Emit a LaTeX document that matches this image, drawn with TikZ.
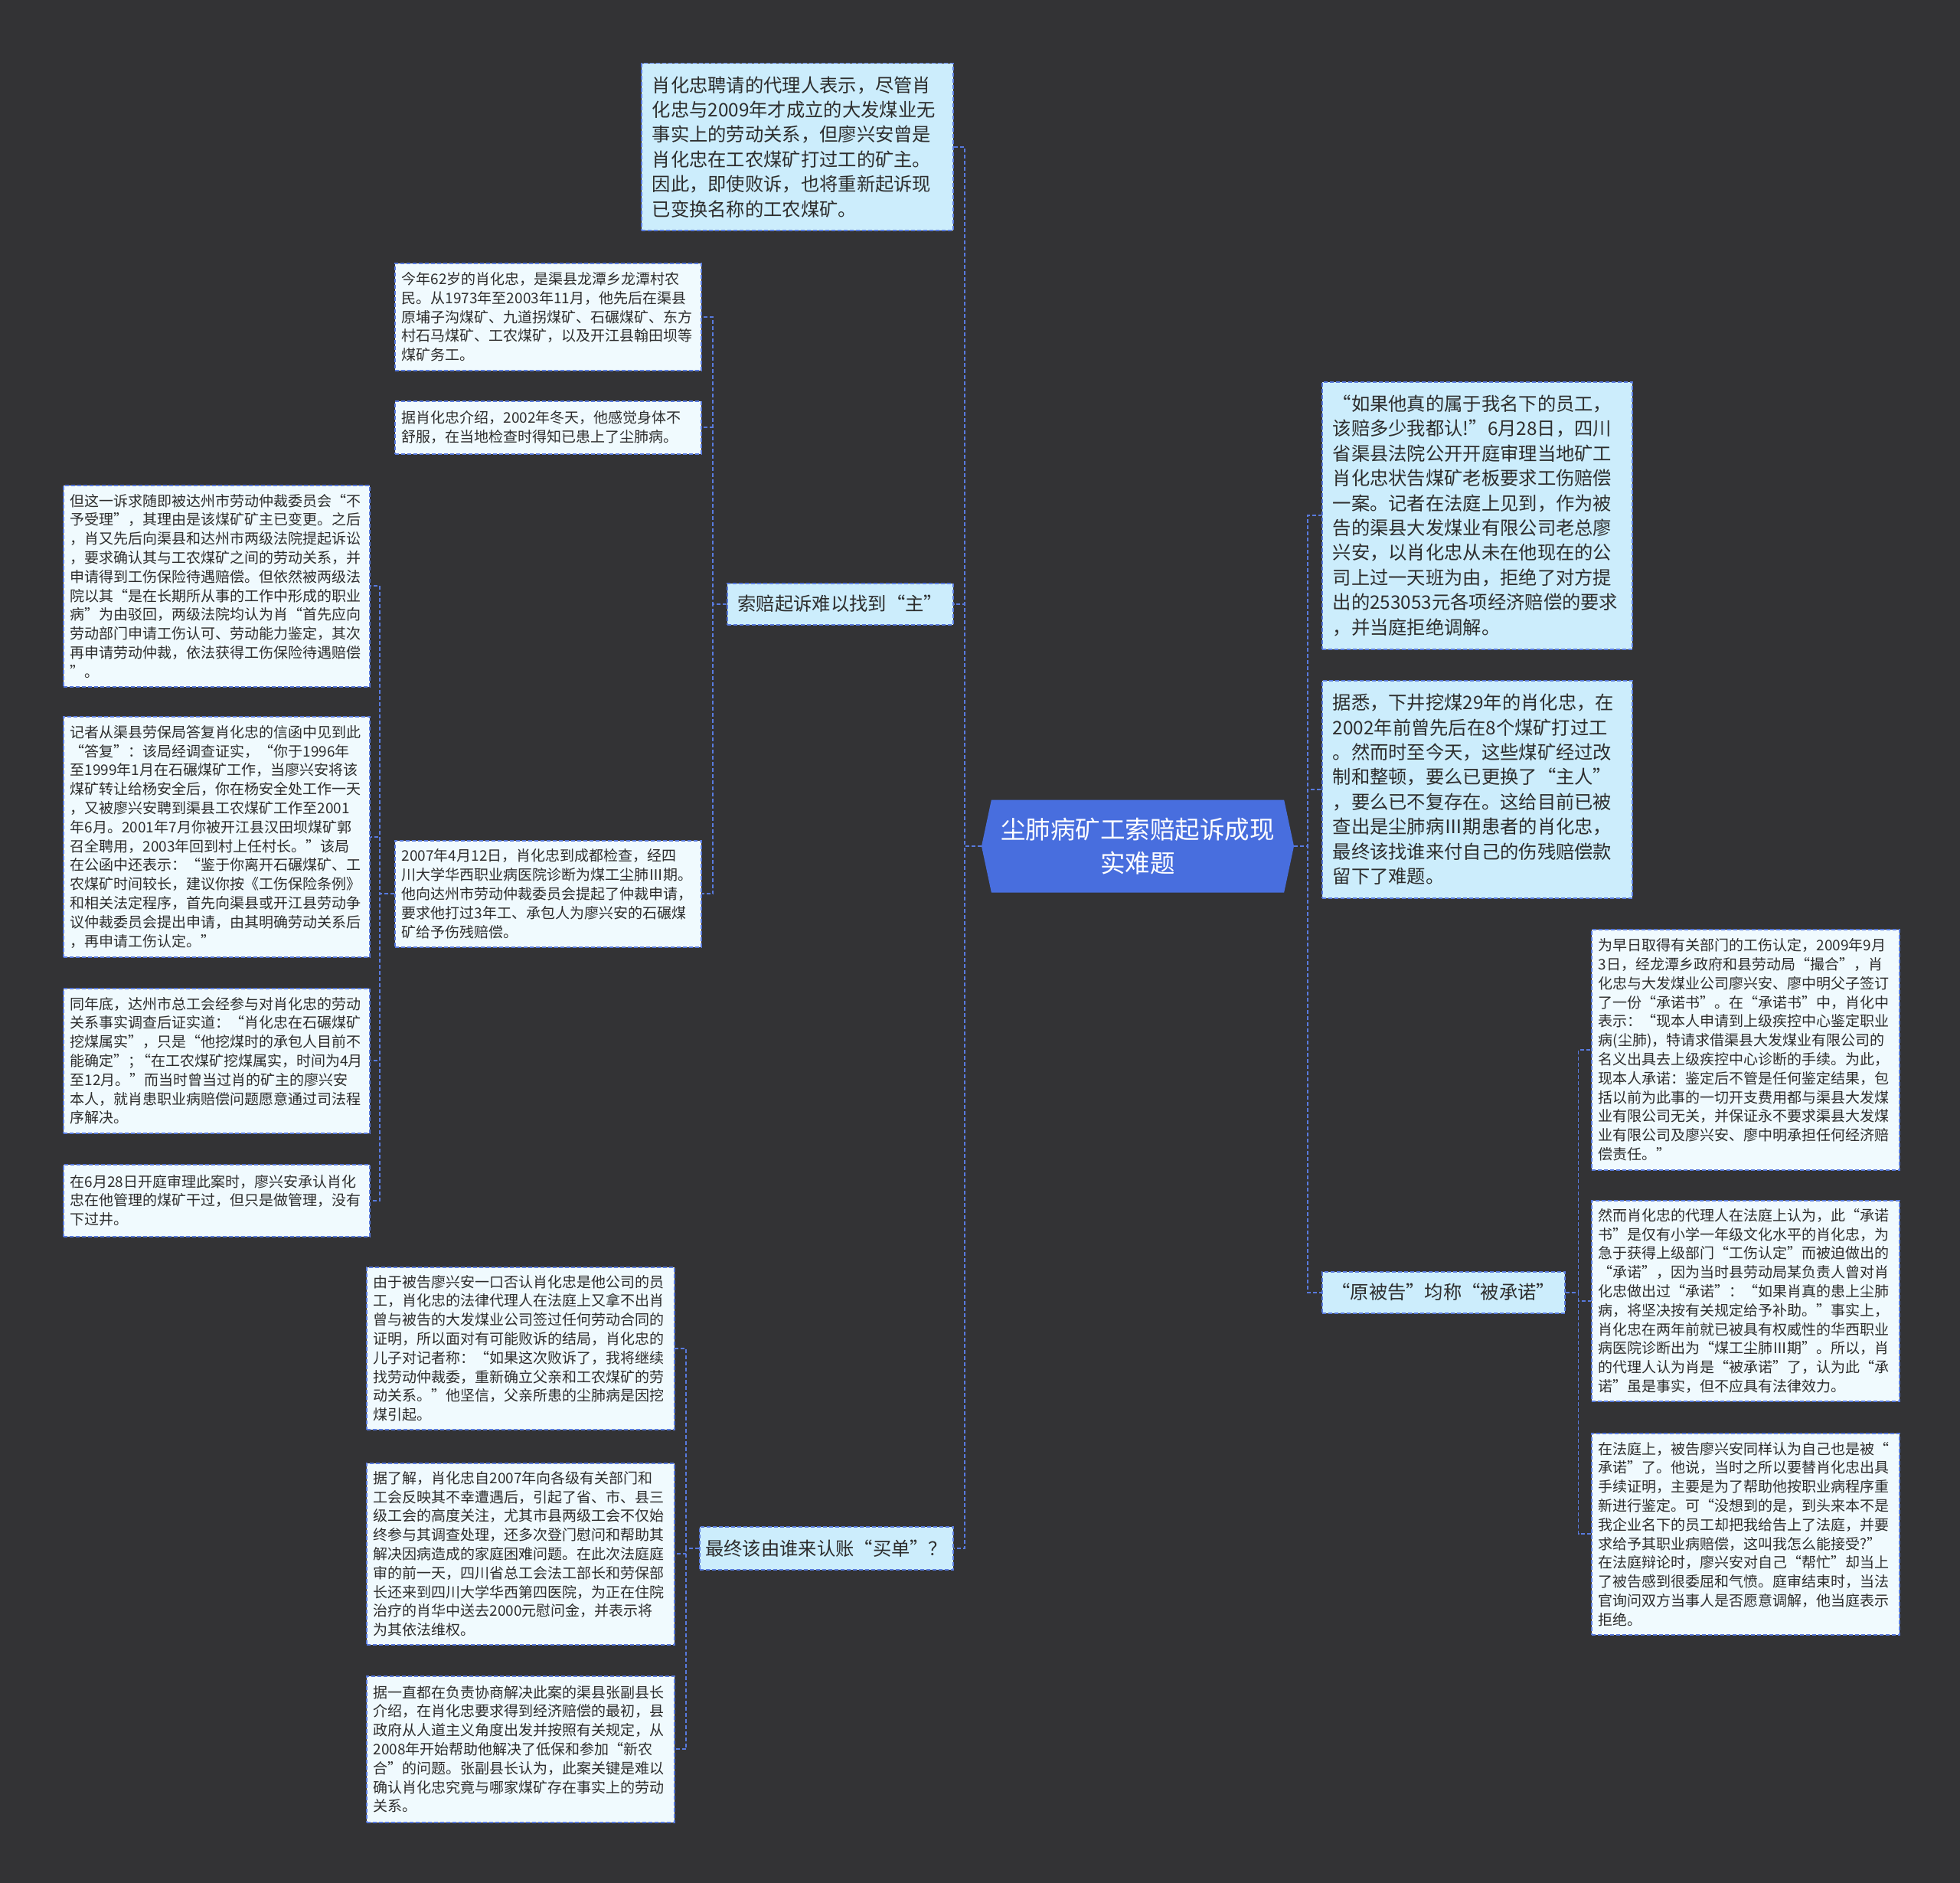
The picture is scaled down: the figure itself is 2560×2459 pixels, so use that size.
\documentclass[tikz,border=0pt]{standalone}
\usepackage{fontspec}
\setmainfont{Noto Sans CJK SC}
\usetikzlibrary{shapes.symbols}
\definecolor{bgc}{RGB}{51,51,53}
\definecolor{lone}{RGB}{204,237,252}
\definecolor{ltwo}{RGB}{240,250,254}
\definecolor{edgec}{RGB}{88,122,222}
\definecolor{cblue}{RGB}{72,110,222}
\definecolor{txt}{RGB}{45,45,45}
\tikzset{
  boxbase/.style={draw=edgec, dash pattern=on 5pt off 3pt, line width=1.5pt, anchor=north west, inner ysep=0pt, text=txt},
  lonebox/.style={boxbase, fill=lone, inner xsep=14pt, align=left, font=\fontsize{24.3}{32.4}\selectfont},
  lonesmall/.style={boxbase, fill=lone, inner xsep=6pt, align=center, font=\fontsize{24.3}{32.4}\selectfont},
  ltwobox/.style={boxbase, fill=ltwo, inner xsep=9pt, align=left, font=\fontsize{19}{24.8}\selectfont},
  link/.style={draw=edgec, line width=1.6pt, dash pattern=on 5pt off 3pt},
}
\begin{document}
\begin{tikzpicture}[x=1pt,y=-1pt]
\fill[bgc] (0,0) rectangle (2560,2459);
\useasboundingbox (0,0) rectangle (2560,2459);

% center
\node[signal, signal to=west and east, signal pointer angle=156, fill=cblue, text=white,
      minimum width=408pt, minimum height=121pt, inner sep=0pt, align=center,
      font=\fontsize{32.5}{44}\selectfont] (c) at (1486,1105) {尘肺病矿工索赔起诉成现\\实难题};

% level one, left
\node[lonebox, text width=379pt, minimum height=218pt] (t1) at (837,82) {肖化忠聘请的代理人表示，尽管肖\\化忠与2009年才成立的大发煤业无\\事实上的劳动关系，但廖兴安曾是\\肖化忠在工农煤矿打过工的矿主。\\因此，即使败诉，也将重新起诉现\\已变换名称的工农煤矿。};
\node[lonesmall, minimum width=295pt, minimum height=54pt] (s) at (949,761) {索赔起诉难以找到“主”};
\node[lonesmall, minimum width=331pt, minimum height=56pt] (z) at (913,1993) {最终该由谁来认账“买单”？};

% level one, right
\node[lonebox, text width=377pt, minimum height=349pt] (r1) at (1726,498) {“如果他真的属于我名下的员工，\\该赔多少我都认!”6月28日，四川\\省渠县法院公开开庭审理当地矿工\\肖化忠状告煤矿老板要求工伤赔偿\\一案。记者在法庭上见到，作为被\\告的渠县大发煤业有限公司老总廖\\兴安，以肖化忠从未在他现在的公\\司上过一天班为由，拒绝了对方提\\出的253053元各项经济赔偿的要求\\，并当庭拒绝调解。};
\node[lonebox, text width=377pt, minimum height=284pt] (r2) at (1726,888) {据悉，下井挖煤29年的肖化忠，在\\2002年前曾先后在8个煤矿打过工\\。然而时至今天，这些煤矿经过改\\制和整顿，要么已更换了“主人”\\，要么已不复存在。这给目前已被\\查出是尘肺病Ⅲ期患者的肖化忠，\\最终该找谁来付自己的伤残赔偿款\\留下了难题。};
\node[lonesmall, minimum width=317pt, minimum height=54pt] (r3) at (1726,1660) {“原被告”均称“被承诺”};

% level two under s
\node[ltwobox, text width=382pt, minimum height=140pt] (a1) at (515,343) {今年62岁的肖化忠，是渠县龙潭乡龙潭村农\\民。从1973年至2003年11月，他先后在渠县\\原埔子沟煤矿、九道拐煤矿、石碾煤矿、东方\\村石马煤矿、工农煤矿，以及开江县翰田坝等\\煤矿务工。};
\node[ltwobox, text width=382pt, minimum height=69pt] (a2) at (515,523) {据肖化忠介绍，2002年冬天，他感觉身体不\\舒服，在当地检查时得知已患上了尘肺病。};
\node[ltwobox, text width=382pt, minimum height=139pt] (a3) at (515,1097) {2007年4月12日，肖化忠到成都检查，经四\\川大学华西职业病医院诊断为煤工尘肺Ⅲ期。\\他向达州市劳动仲裁委员会提起了仲裁申请，\\要求他打过3年工、承包人为廖兴安的石碾煤\\矿给予伤残赔偿。};

% level three under a3
\node[ltwobox, text width=382pt, minimum height=263pt] (b1) at (82,633) {但这一诉求随即被达州市劳动仲裁委员会“不\\予受理”，其理由是该煤矿矿主已变更。之后\\，肖又先后向渠县和达州市两级法院提起诉讼\\，要求确认其与工农煤矿之间的劳动关系，并\\申请得到工伤保险待遇赔偿。但依然被两级法\\院以其“是在长期所从事的工作中形成的职业\\病”为由驳回，两级法院均认为肖“首先应向\\劳动部门申请工伤认可、劳动能力鉴定，其次\\再申请劳动仲裁，依法获得工伤保险待遇赔偿\\”。};
\node[ltwobox, text width=382pt, minimum height=314pt] (b2) at (82,935) {记者从渠县劳保局答复肖化忠的信函中见到此\\“答复”：该局经调查证实，“你于1996年\\至1999年1月在石碾煤矿工作，当廖兴安将该\\煤矿转让给杨安全后，你在杨安全处工作一天\\，又被廖兴安聘到渠县工农煤矿工作至2001\\年6月。2001年7月你被开江县汉田坝煤矿郭\\召全聘用，2003年回到村上任村长。”该局\\在公函中还表示：“鉴于你离开石碾煤矿、工\\农煤矿时间较长，建议你按《工伤保险条例》\\和相关法定程序，首先向渠县或开江县劳动争\\议仲裁委员会提出申请，由其明确劳动关系后\\，再申请工伤认定。”};
\node[ltwobox, text width=382pt, minimum height=189pt] (b3) at (82,1290) {同年底，达州市总工会经参与对肖化忠的劳动\\关系事实调查后证实道：“肖化忠在石碾煤矿\\挖煤属实”，只是“他挖煤时的承包人目前不\\能确定”；\kern-0.45em“在工农煤矿挖煤属实，时间为4月\\至12月。”而当时曾当过肖的矿主的廖兴安\\本人，就肖患职业病赔偿问题愿意通过司法程\\序解决。};
\node[ltwobox, text width=382pt, minimum height=94pt] (b4) at (82,1520) {在6月28日开庭审理此案时，廖兴安承认肖化\\忠在他管理的煤矿干过，但只是做管理，没有\\下过井。};

% level two under z
\node[ltwobox, text width=384pt, minimum height=212pt] (d1) at (478,1654) {由于被告廖兴安一口否认肖化忠是他公司的员\\工，肖化忠的法律代理人在法庭上又拿不出肖\\曾与被告的大发煤业公司签过任何劳动合同的\\证明，所以面对有可能败诉的结局，肖化忠的\\儿子对记者称：“如果这次败诉了，我将继续\\找劳动仲裁委，重新确立父亲和工农煤矿的劳\\动关系。”他坚信，父亲所患的尘肺病是因挖\\煤引起。};
\node[ltwobox, text width=384pt, minimum height=237pt] (d2) at (478,1910) {据了解，肖化忠自2007年向各级有关部门和\\工会反映其不幸遭遇后，引起了省、市、县三\\级工会的高度关注，尤其市县两级工会不仅始\\终参与其调查处理，还多次登门慰问和帮助其\\解决因病造成的家庭困难问题。在此次法庭庭\\审的前一天，四川省总工会法工部长和劳保部\\长还来到四川大学华西第四医院，为正在住院\\治疗的肖华中送去2000元慰问金，并表示将\\为其依法维权。};
\node[ltwobox, text width=384pt, minimum height=191pt] (d3) at (478,2188) {据一直都在负责协商解决此案的渠县张副县长\\介绍，在肖化忠要求得到经济赔偿的最初，县\\政府从人道主义角度出发并按照有关规定，从\\2008年开始帮助他解决了低保和参加“新农\\合”的问题。张副县长认为，此案关键是难以\\确认肖化忠究竟与哪家煤矿存在事实上的劳动\\关系。};

% level two under r3
\node[ltwobox, text width=384pt, minimum height=314pt] (e1) at (2078,1213) {为早日取得有关部门的工伤认定，2009年9月\\3日，经龙潭乡政府和县劳动局“撮合”，肖\\化忠与大发煤业公司廖兴安、廖中明父子签订\\了一份“承诺书”。在“承诺书”中，肖化中\\表示：“现本人申请到上级疾控中心鉴定职业\\病(尘肺)，特请求借渠县大发煤业有限公司的\\名义出具去上级疾控中心诊断的手续。为此，\\现本人承诺：鉴定后不管是任何鉴定结果，包\\括以前为此事的一切开支费用都与渠县大发煤\\业有限公司无关，并保证永不要求渠县大发煤\\业有限公司及廖兴安、廖中明承担任何经济赔\\偿责任。”};
\node[ltwobox, text width=384pt, minimum height=262pt] (e2) at (2078,1567) {然而肖化忠的代理人在法庭上认为，此“承诺\\书”是仅有小学一年级文化水平的肖化忠，为\\急于获得上级部门“工伤认定”而被迫做出的\\“承诺”，因为当时县劳动局某负责人曾对肖\\化忠做出过“承诺”：“如果肖真的患上尘肺\\病，将坚决按有关规定给予补助。”事实上，\\肖化忠在两年前就已被具有权威性的华西职业\\病医院诊断出为“煤工尘肺Ⅲ期”。所以，肖\\的代理人认为肖是“被承诺”了，认为此“承\\诺”虽是事实，但不应具有法律效力。};
\node[ltwobox, text width=384pt, minimum height=263pt] (e3) at (2078,1871) {在法庭上，被告廖兴安同样认为自己也是被“\\承诺”了。他说，当时之所以要替肖化忠出具\\手续证明，主要是为了帮助他按职业病程序重\\新进行鉴定。可“没想到的是，到头来本不是\\我企业名下的员工却把我给告上了法庭，并要\\求给予其职业病赔偿，这叫我怎么能接受?”\\在法庭辩论时，廖兴安对自己“帮忙”却当上\\了被告感到很委屈和气愤。庭审结束时，当法\\官询问双方当事人是否愿意调解，他当庭表示\\拒绝。};

% connectors
\foreach \n in {t1,s,z} \draw[link] (c.west) -- ++(-22,0) |- (\n.east);
\foreach \n in {r1,r2,r3} \draw[link] (c.east) -- ++(18,0) |- (\n.west);
\foreach \n in {a1,a2,a3} \draw[link] (s.west) -- ++(-18,0) |- (\n.east);
\foreach \n in {b1,b2,b3,b4} \draw[link] (a3.west) -- ++(-19,0) |- (\n.east);
\foreach \n in {d1,d2,d3} \draw[link] (z.west) -- ++(-17,0) |- (\n.east);
\foreach \n in {e1,e2,e3} \draw[link] (r3.east) -- ++(17,0) |- (\n.west);
\end{tikzpicture}
\end{document}
